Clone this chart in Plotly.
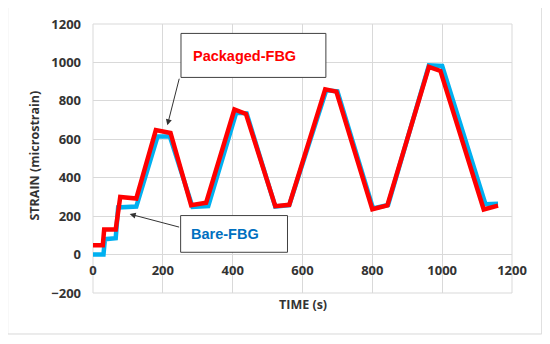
import plotly.graph_objects as go

# ---- data ----
time_bare = [0, 30, 34, 65, 72, 124, 185, 220, 285, 330, 410, 440, 522, 562, 668, 700, 802, 845, 962, 1000, 1124, 1160]
strain_bare = [0, 0, 80, 85, 245, 250, 615, 615, 248, 252, 738, 735, 250, 257, 855, 850, 240, 258, 985, 982, 262, 265]

time_pkg = [0, 28, 32, 65, 78, 124, 180, 222, 281, 324, 405, 438, 522, 562, 665, 697, 800, 843, 962, 995, 1119, 1160]
strain_pkg = [48, 48, 130, 130, 300, 292, 648, 633, 257, 270, 755, 732, 252, 259, 860, 848, 236, 256, 977, 956, 235, 255]

x_ticks = [0, 200, 400, 600, 800, 1000, 1200]
y_ticks = [-200, 0, 200, 400, 600, 800, 1000, 1200]

BLUE = "#00B0F0"
RED = "#FF0000"
GRID = "#D9D9D9"
TXT = "#333333"
FONT = "Open Sans"

fig = go.Figure()
fig.add_trace(go.Scatter(x=time_bare, y=strain_bare, mode="lines", name="Bare-FBG",
                         line=dict(color=BLUE, width=4.5)))
fig.add_trace(go.Scatter(x=time_pkg, y=strain_pkg, mode="lines", name="Packaged-FBG",
                         line=dict(color=RED, width=4.5)))

fig.update_layout(
    width=542, height=336,
    margin=dict(l=85, r=38, t=16, b=51, autoexpand=False),
    paper_bgcolor="white", plot_bgcolor="white",
    showlegend=False,
    xaxis=dict(range=[0, 1200], tickvals=x_ticks, showgrid=True, gridcolor=GRID, gridwidth=1,
               zeroline=False, showline=False, ticks="", anchor="free", position=200 / 1400,
               automargin=False,
               tickfont=dict(family=FONT, size=13, color=TXT, weight="bold"),
               ticklabelstandoff=6),
    yaxis=dict(range=[-200, 1200], tickvals=y_ticks, showgrid=True, gridcolor=GRID, gridwidth=1,
               zeroline=False, showline=False, ticks="", automargin=False,
               tickfont=dict(family=FONT, size=13, color=TXT, weight="bold"),
               ticklabelstandoff=11),
)

# plot-area border in grid colour
fig.add_shape(type="rect", xref="x domain", yref="y domain", x0=0, x1=1, y0=0, y1=1,
              line=dict(color=GRID, width=1), layer="below")
# outer chart frame
fig.add_shape(type="rect", xref="paper", yref="paper", x0=-0.2036, x1=1.0709, y0=-0.1524, y1=1.0632,
              line=dict(color=GRID, width=1))

# axis titles
fig.add_annotation(text="TIME (s)", xref="paper", yref="paper", x=0.5, y=-0.0446,
                   showarrow=False, xanchor="center", yanchor="middle",
                   font=dict(family=FONT, size=12.5, color=TXT, weight="bold"))
fig.add_annotation(text="STRAIN (microstrain)", xref="paper", yref="paper", x=-0.1384, y=0.511,
                   showarrow=False, textangle=-90, xanchor="center", yanchor="middle",
                   font=dict(family=FONT, size=12.5, color=TXT, weight="bold"))

# callout boxes
fig.add_shape(type="rect", xref="x", yref="y", x0=252, x1=667, y0=922, y1=1151,
              line=dict(color="#404040", width=1), fillcolor="white")
fig.add_annotation(text="Packaged-FBG", xref="x", yref="y", x=433, y=1036, showarrow=False,
                   font=dict(family="Liberation Sans", size=14.5, color=RED, weight="bold"))
fig.add_annotation(text="", xref="x", yref="y", axref="x", ayref="y",
                   x=213, y=673, ax=248, ay=923, showarrow=True,
                   arrowhead=2, arrowsize=1.2, arrowwidth=1, arrowcolor="#333333")

fig.add_shape(type="rect", xref="x", yref="y", x0=251, x1=557, y0=12, y1=203,
              line=dict(color="#404040", width=1), fillcolor="white")
fig.add_annotation(text="Bare-FBG", xref="x", yref="y", x=378, y=108, showarrow=False,
                   font=dict(family="Liberation Sans", size=14.5, color="#0070C0", weight="bold"))
fig.add_annotation(text="", xref="x", yref="y", axref="x", ayref="y",
                   x=105, y=211, ax=251, ay=141, showarrow=True,
                   arrowhead=2, arrowsize=1.2, arrowwidth=1, arrowcolor="#333333")

fig.write_html("out.html")
